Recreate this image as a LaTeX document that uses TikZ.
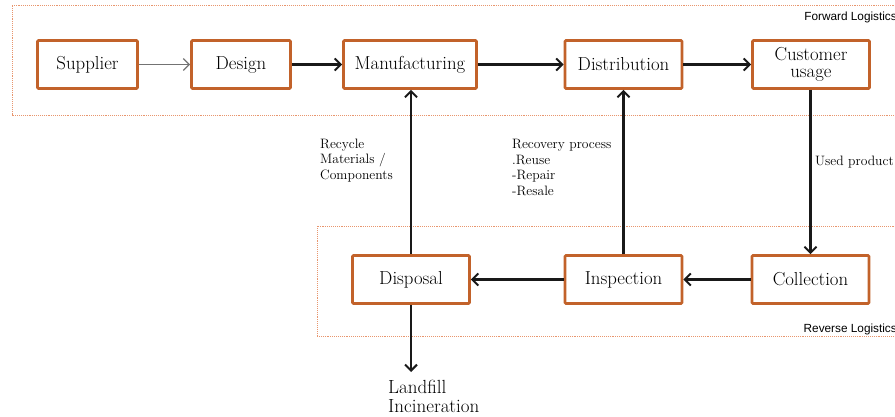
\documentclass[tikz,border=0pt]{standalone}
\usepackage{fontspec}
\newfontfamily\labsans{Liberation Sans}
\usetikzlibrary{arrows.meta}
\definecolor{boxc}{RGB}{194,98,42}
\definecolor{grpc}{RGB}{232,150,110}
\begin{document}
\begin{tikzpicture}[x=1pt,y=-1pt,
  stepbox/.style={draw=boxc,line width=2.8pt,rounded corners=1pt,minimum width=117pt,minimum height=48pt,inner sep=2pt,align=center,font=\fontsize{18.8}{19}\selectfont},
  group/.style={draw=grpc,line width=0.9pt,densely dotted},
  flow/.style={line width=2.1pt,black!90,-{Straight Barb[length=6pt,width=12pt,line width=2pt]}},
  thinflow/.style={line width=1.2pt,black!55,-{Straight Barb[length=6pt,width=12pt,line width=1.2pt]}},
  lab/.style={inner sep=0pt,align=left,anchor=north west,font=\fontsize{13.6}{15.5}\selectfont},
  grplab/.style={inner sep=0pt,anchor=east,font=\labsans\fontsize{11.8}{13}\selectfont}]
\useasboundingbox (0,0) rectangle (895,417);
% group frames
\draw[group] (900,5) -- (12,5) -- (12,115) -- (900,115);
\draw[group] (900,226) -- (317,226) -- (317,336.5) -- (900,336.5);
\node[grplab] (fl) at (897,17) {Forward Logistics};
\node[grplab] (rl) at (897,329.5) {Reverse Logistics};
% boxes
\node[stepbox,minimum width=100pt] (sup) at (87.5,64.5) {Supplier};
\node[stepbox,minimum width=99pt] (des) at (241,64.5) {Design};
\node[stepbox,minimum width=133pt] (man) at (410,64.5) {Manufacturing};
\node[stepbox] (dis) at (623.5,64.5) {Distribution};
\node[stepbox,font=\fontsize{18.8}{17.5}\selectfont] (cus) at (811,64.5) {Customer\\usage};
\node[stepbox] (dsp) at (411,279.5) {Disposal};
\node[stepbox] (ins) at (623.5,279.5) {Inspection};
\node[stepbox] (col) at (810.5,279.5) {Collection};
% landfill end point
\coordinate (lf) at (411,372);
% connectors
\draw[thinflow] (sup) -- (des);
\draw[flow] (des) -- (man);
\draw[flow] (man) -- (dis);
\draw[flow] (dis) -- (cus);
\draw[flow] (cus.south -| col.north) -- (col.north);
\draw[flow] (col) -- (ins);
\draw[flow] (ins) -- (dsp);
\draw[flow] (dsp.north) -- (dsp.north |- man.south);
\draw[flow] (ins.north) -- (ins.north |- dis.south);
\draw[flow] (dsp.south) -- (lf);
% labels
\node[lab] (rec) at (320,138.5) {Recycle\\Materials /\\Components};
\node[lab] (rcv) at (512,139.5) {Recovery process\\.Reuse\\-Repair\\-Resale};
\node[lab,anchor=west] (used) at (815,162) {Used product};
\node[lab,font=\fontsize{19}{19}\selectfont] (land) at (388,379.5) {Landfill\\Incineration};
\end{tikzpicture}
\end{document}
